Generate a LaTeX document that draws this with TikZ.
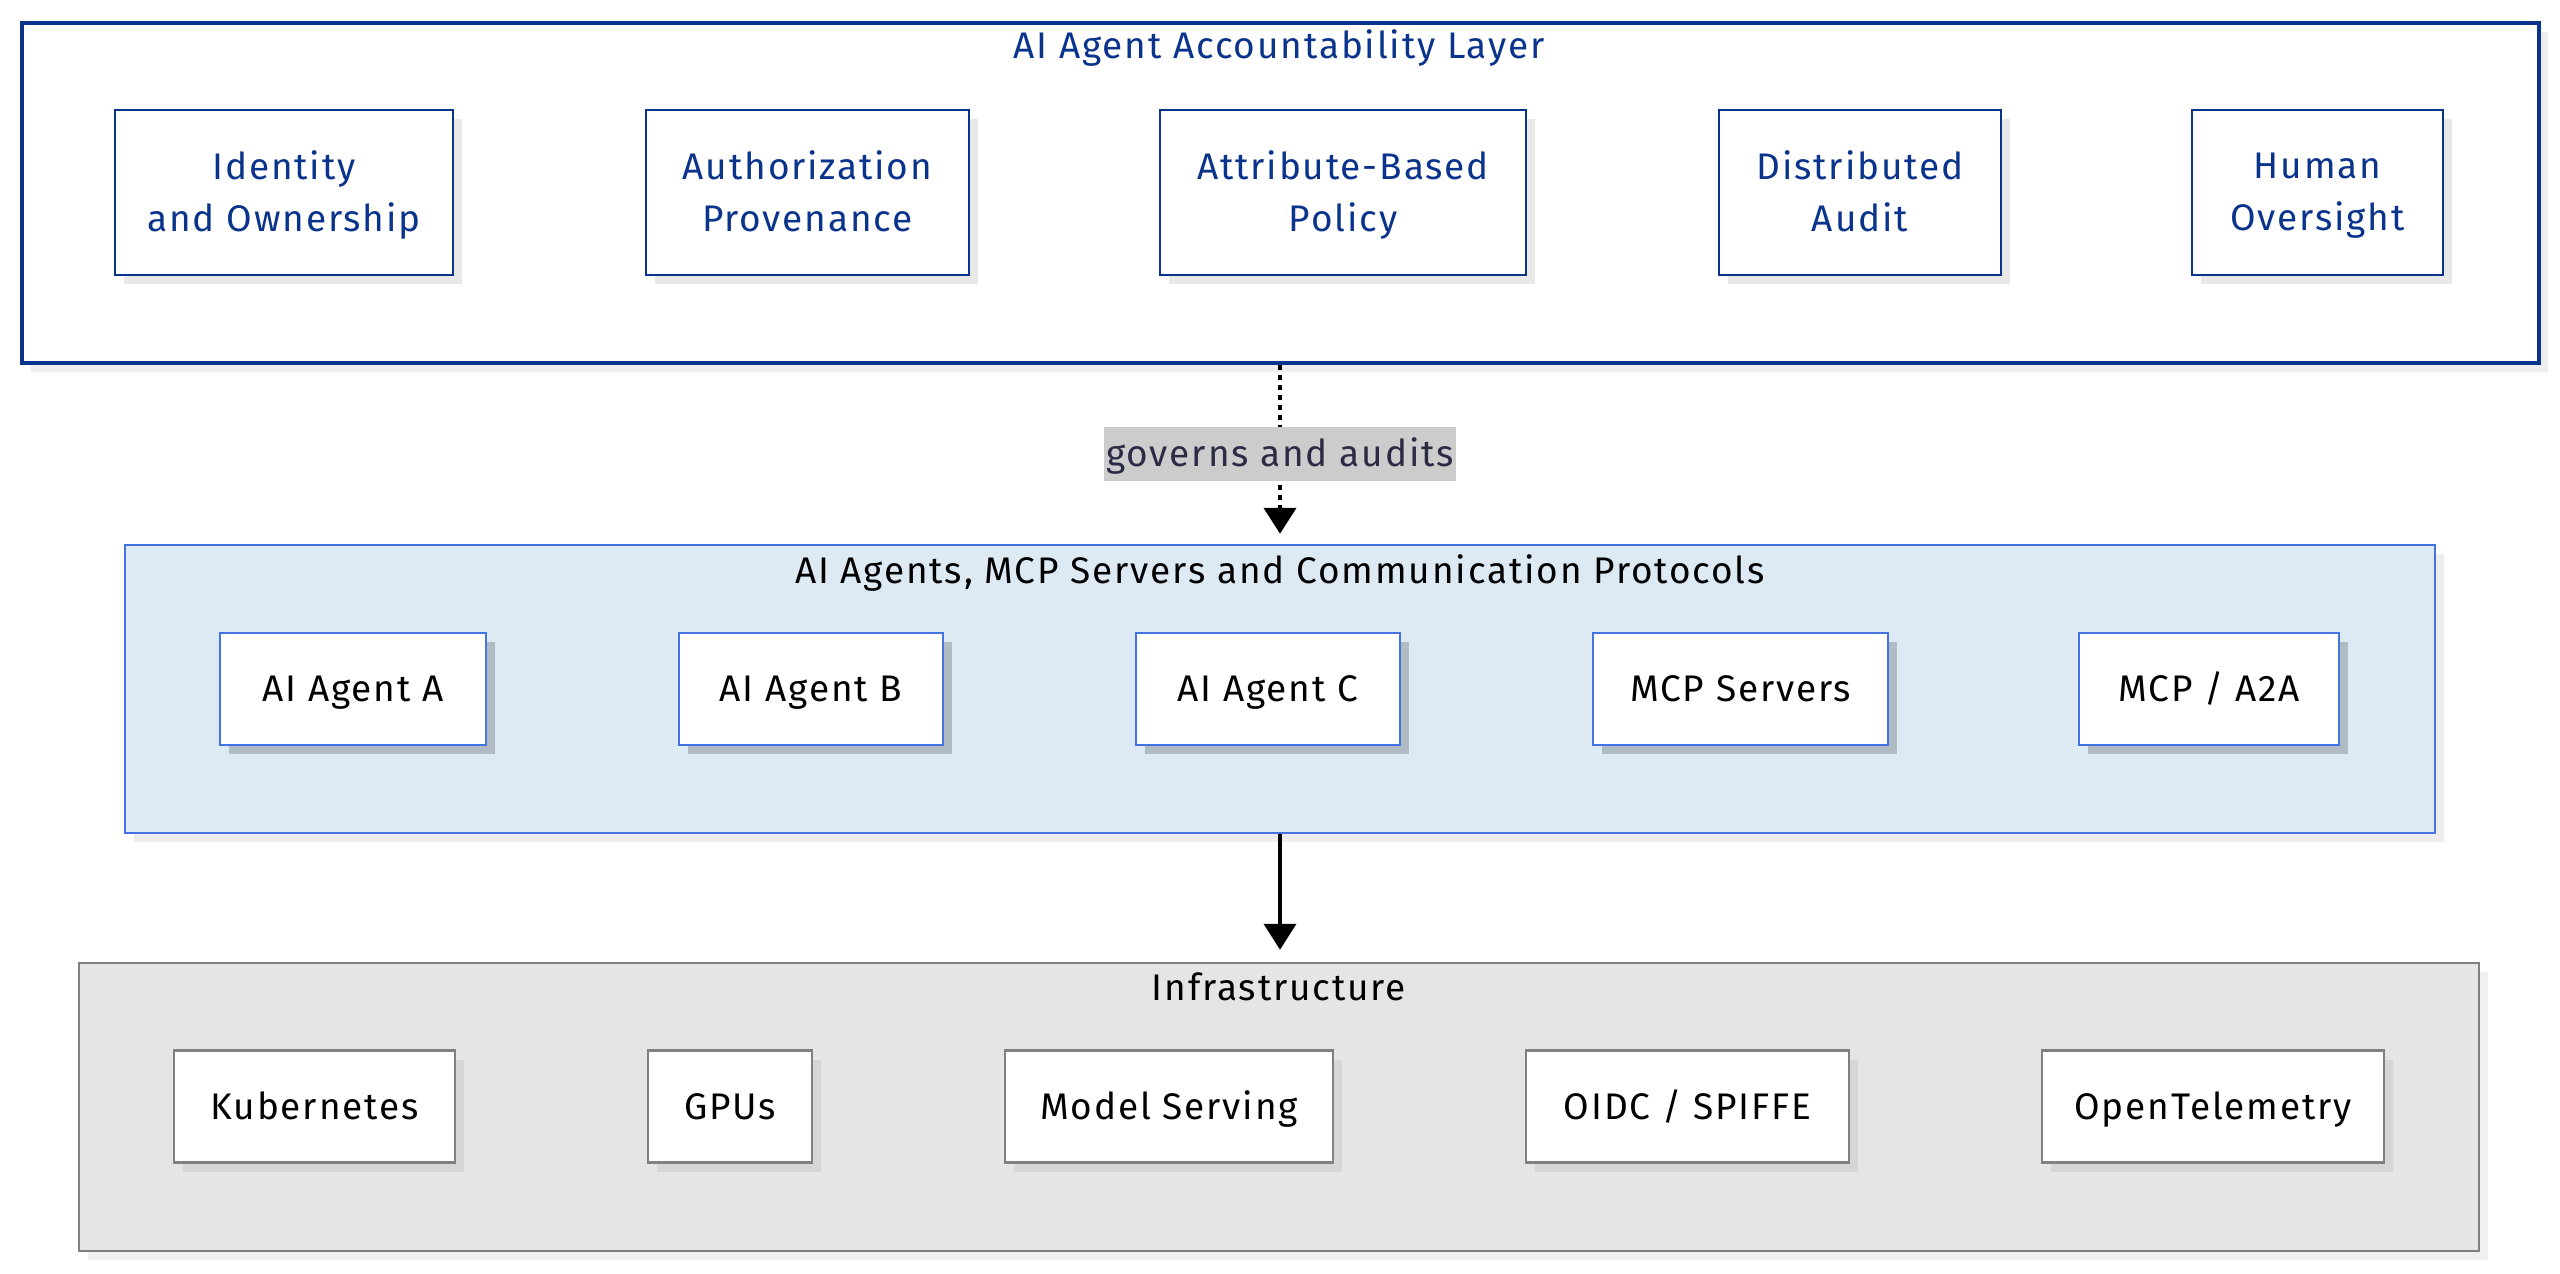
\documentclass[tikz,border=0pt]{standalone}
\usepackage{fontspec}
\setmainfont{Fira Sans}[LetterSpace=5]
\usetikzlibrary{arrows.meta,shadows}
\definecolor{topblue}{HTML}{0A338C}
\definecolor{midblue}{HTML}{4474E4}
\definecolor{midfill}{HTML}{DDEAF4}
\definecolor{botfill}{HTML}{E5E5E5}
\definecolor{botline}{HTML}{808080}
\definecolor{labfill}{HTML}{CCCCCC}
\definecolor{labtext}{HTML}{2B2B45}
\tikzset{
  txt/.style={font=\fontsize{37}{52}\selectfont, align=center, inner sep=0pt, text depth=2pt},
  one/.style={text height=27pt, text depth=2pt},
  layertop/.style={draw=topblue, line width=4pt, fill=white, inner sep=0pt,
    general shadow={fill=black!7, shadow xshift=9pt, shadow yshift=-9pt}},
  layermid/.style={draw=midblue, line width=2.5pt, fill=midfill, inner sep=0pt,
    general shadow={fill=black!7, shadow xshift=9pt, shadow yshift=-9pt}},
  layerbot/.style={draw=botline, line width=2.5pt, fill=botfill, inner sep=0pt,
    general shadow={fill=black!6, shadow xshift=9pt, shadow yshift=-9pt}},
  boxtop/.style={txt, draw=topblue, line width=2.2pt, fill=white, text=topblue, minimum height=165pt,
    general shadow={fill=black!9, shadow xshift=9pt, shadow yshift=-9pt}},
  boxmid/.style={txt, one, draw=midblue, line width=2.2pt, fill=white, text=black, minimum height=112pt,
    general shadow={fill=black!20!midfill, shadow xshift=9pt, shadow yshift=-9pt}},
  boxbot/.style={txt, one, draw=botline, line width=2.2pt, fill=white, text=black, minimum height=112pt,
    general shadow={fill=black!16, shadow xshift=9pt, shadow yshift=-9pt}},
  dotarrow/.style={line width=4.5pt, dash pattern=on 5pt off 5pt, -{Triangle[width=32pt,length=26pt]}},
  solidarrow/.style={line width=4pt, -{Triangle[width=32pt,length=26pt]}},
  lab/.style={txt, one, fill=labfill, text=labtext, minimum height=54pt, inner xsep=2pt}
}
\begin{document}
\begin{tikzpicture}[x=1pt,y=-1pt]
\useasboundingbox (0,0) rectangle (2560,1274);
% layers
\node[layertop, minimum width=2517pt, minimum height=340pt] (top) at (1280,193) {};
\node[layermid, minimum width=2310pt, minimum height=288pt] (mid) at (1280,689) {};
\node[layerbot, minimum width=2400pt, minimum height=288pt] (bot) at (1279,1107) {};
% titles
\node[txt, one, text=topblue] (ttop) at (1279,46) {AI Agent Accountability Layer};
\node[txt, one, text=black] (tmid) at (1280,571) {AI Agents, MCP Servers and Communication Protocols};
\node[txt, one, text=black] (tbot) at (1279,988) {Infrastructure};
% top row
\node[boxtop, minimum width=338pt] (t1) at (284,192.5) {Identity\\and Ownership};
\node[boxtop, minimum width=323pt] (t2) at (807.5,192.5) {Authorization\\Provenance};
\node[boxtop, minimum width=366pt] (t3) at (1343,192.5) {Attribute-Based\\Policy};
\node[boxtop, minimum width=282pt] (t4) at (1860,192.5) {Distributed\\Audit};
\node[boxtop, minimum width=251pt] (t5) at (2317.5,192.5) {Human\\Oversight};
% middle row
\node[boxmid, minimum width=266pt] (m1) at (353,689) {AI Agent A};
\node[boxmid, minimum width=264pt] (m2) at (811,689) {AI Agent B};
\node[boxmid, minimum width=264pt] (m3) at (1268,689) {AI Agent C};
\node[boxmid, minimum width=295pt] (m4) at (1740.5,689) {MCP Servers};
\node[boxmid, minimum width=260pt] (m5) at (2209,689) {MCP / A2A};
% bottom row
\node[boxbot, minimum width=281pt] (b1) at (314.5,1106.5) {Kubernetes};
\node[boxbot, minimum width=164pt] (b2) at (730,1106.5) {GPUs};
\node[boxbot, minimum width=328pt] (b3) at (1169,1106.5) {Model Serving};
\node[boxbot, minimum width=323pt] (b4) at (1687.5,1106.5) {OIDC / SPIFFE};
\node[boxbot, minimum width=342pt] (b5) at (2213,1106.5) {OpenTelemetry};
% connectors
\draw[dotarrow, shorten >=10pt] (top.south) -- node[lab] (glab) {governs and audits} (mid.north);
\draw[solidarrow, shorten >=12pt] (mid.south) -- (mid.south |- bot.north);
\end{tikzpicture}
\end{document}
